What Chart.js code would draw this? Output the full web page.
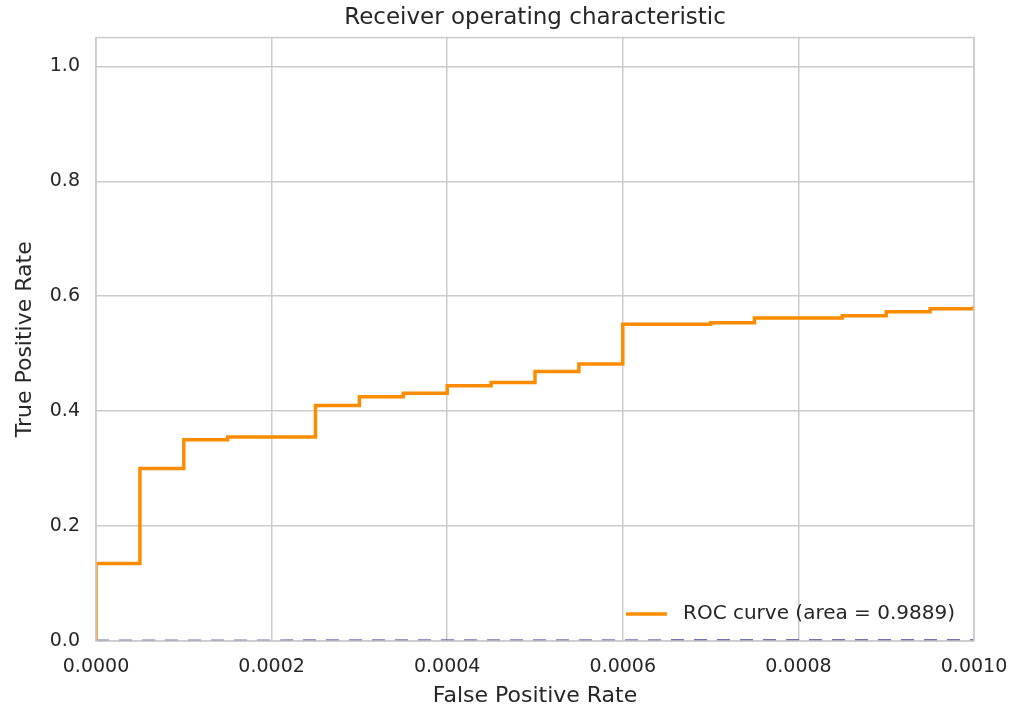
<!DOCTYPE html>
<html>
<head>
<meta charset="utf-8">
<title>Receiver operating characteristic</title>
<script src="https://cdn.jsdelivr.net/npm/chart.js@4.4.0/dist/chart.umd.min.js"></script>
<style>
    html, body { margin: 0; padding: 0; background: #ffffff; }
    #rocChart { display: block; }
</style>
</head>
<body>
<canvas id="rocChart" width="1024" height="722"></canvas>
<script>
// ROC points (fpr / tpr pairs, step corners included)
const fpr = [0, 0, 0.00005, 0.00005, 0.0001, 0.0001, 0.00015, 0.00015,
             0.00025, 0.00025, 0.0003, 0.0003, 0.00035, 0.00035, 0.0004, 0.0004,
             0.00045, 0.00045, 0.0005, 0.0005, 0.00055, 0.00055, 0.0006, 0.0006,
             0.0007, 0.0007, 0.00075, 0.00075, 0.00085, 0.00085, 0.0009, 0.0009,
             0.00095, 0.00095, 0.001, 0.001];
const tpr = [0, 0.135, 0.135, 0.300, 0.300, 0.350, 0.350, 0.355,
             0.355, 0.410, 0.410, 0.425, 0.425, 0.431, 0.431, 0.444,
             0.444, 0.450, 0.450, 0.469, 0.469, 0.482, 0.482, 0.551,
             0.551, 0.554, 0.554, 0.562, 0.562, 0.566, 0.566, 0.573,
             0.573, 0.578, 0.578, 0.583];

// chance diagonal, only the part inside the x range
// (Chart.js clamps huge pixel values, so (1,1) would bend the line)
const chanceX = [0, 0.001];
const chanceY = [0, 0.001];

const xTicks = [0, 0.0002, 0.0004, 0.0006, 0.0008, 0.001];
const yTicks = [0, 0.2, 0.4, 0.6, 0.8, 1.0];

const rocLabel = 'ROC curve (area = 0.9889)';

const FONT = "'DejaVu Sans', 'Liberation Sans', sans-serif";
const TEXT = '#262626';
const GRID = '#cccccc';

// ============================================================================
// PLUGINS
// ============================================================================

// grey box round the plot area (top/right have no axis of their own)
const axesFrame = {
    id: 'axesFrame',
    afterDatasetsDraw(chart) {
        const a = chart.chartArea;
        const ctx = chart.ctx;
        ctx.save();
        ctx.strokeStyle = GRID;
        ctx.lineWidth = 1.5;
        ctx.strokeRect(a.left, a.top, a.right - a.left, a.bottom - a.top);
        ctx.restore();
    }
};

// legend sits inside the plot, lower right, no frame
const innerLegend = {
    id: 'innerLegend',
    afterDraw(chart) {
        const a = chart.chartArea;
        const ctx = chart.ctx;
        const ds = chart.data.datasets[0];
        ctx.save();
        ctx.font = '20px ' + FONT;
        const w = ctx.measureText(ds.label).width;
        const textX = a.right - 19 - w;
        const y = a.bottom - 27;
        ctx.strokeStyle = ds.borderColor;
        ctx.lineWidth = 3.5;
        ctx.beginPath();
        ctx.moveTo(textX - 57, y);
        ctx.lineTo(textX - 16, y);
        ctx.stroke();
        ctx.fillStyle = TEXT;
        ctx.textBaseline = 'middle';
        ctx.fillText(ds.label, textX, y);
        ctx.restore();
    }
};

// ============================================================================
// CHART
// ============================================================================

function toPoints(xs, ys) {
    return xs.map((x, i) => ({ x: x, y: ys[i] }));
}

function renderRocChart() {
    const ctx = document.getElementById('rocChart');

    return new Chart(ctx, {
        type: 'line',
        data: {
            datasets: [{
                label: rocLabel,
                data: toPoints(fpr, tpr),
                borderColor: '#ff8c00',
                borderWidth: 3.5,
                pointRadius: 0,
                tension: 0,
                fill: false
            }, {
                label: 'chance',
                data: toPoints(chanceX, chanceY),
                borderColor: 'rgba(0, 0, 128, 0.55)',
                borderWidth: 3,
                borderDash: [13, 10],
                pointRadius: 0,
                fill: false
            }]
        },
        options: {
            responsive: false,
            animation: false,
            layout: { padding: { left: 0, right: 50, top: 0, bottom: 0 } },
            plugins: {
                legend: { display: false },
                tooltip: { enabled: false },
                title: {
                    display: true,
                    fullSize: false,
                    text: 'Receiver operating characteristic',
                    color: TEXT,
                    font: { family: FONT, size: 23, weight: 'normal' },
                    padding: { top: 4, bottom: 6 }
                }
            },
            scales: {
                x: {
                    type: 'linear',
                    min: 0,
                    max: 0.001,
                    afterBuildTicks: scale => {
                        scale.ticks = xTicks.map(v => ({ value: v }));
                    },
                    afterFit: scale => {
                        scale.height = 81;
                        scale.paddingLeft = 0;
                        scale.paddingRight = 0;
                    },
                    ticks: {
                        color: TEXT,
                        font: { family: FONT, size: 19 },
                        padding: 15,
                        maxRotation: 0,
                        callback: v => v.toFixed(4)
                    },
                    grid: { color: GRID, lineWidth: 1.5, drawTicks: false },
                    border: { display: false },
                    title: {
                        display: true,
                        text: 'False Positive Rate',
                        color: TEXT,
                        font: { family: FONT, size: 22 },
                        padding: { top: 0, bottom: 13 }
                    }
                },
                y: {
                    type: 'linear',
                    min: 0,
                    max: 1.05,
                    afterBuildTicks: scale => {
                        scale.ticks = yTicks.map(v => ({ value: v }));
                    },
                    afterFit: scale => {
                        scale.width = 96;
                        scale.paddingTop = 0;
                        scale.paddingBottom = 0;
                    },
                    ticks: {
                        color: TEXT,
                        font: { family: FONT, size: 19 },
                        padding: 16,
                        callback: v => v.toFixed(1)
                    },
                    grid: { color: GRID, lineWidth: 1.5, drawTicks: false },
                    border: { display: false },
                    title: {
                        display: true,
                        text: 'True Positive Rate',
                        color: TEXT,
                        font: { family: FONT, size: 22 },
                        padding: { top: 12, bottom: 0 }
                    }
                }
            }
        },
        plugins: [axesFrame, innerLegend]
    });
}

renderRocChart();
</script>
</body>
</html>
